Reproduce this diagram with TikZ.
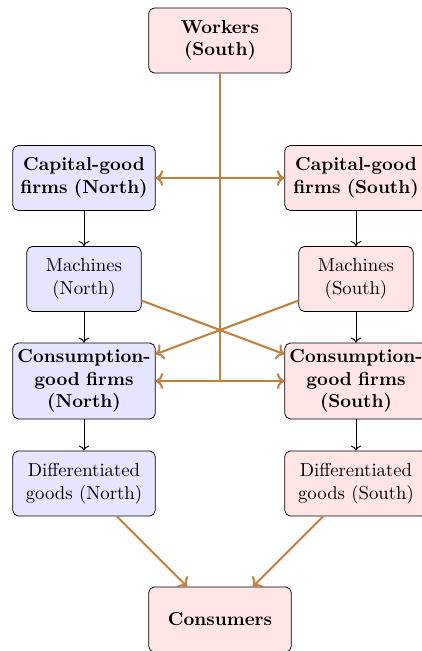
\documentclass[tikz,border=0pt]{standalone}
\usetikzlibrary{arrows.meta}
\definecolor{flowc}{RGB}{191,128,64}
\tikzset{
  box/.style={draw, rounded corners=3pt, align=center, text width=72pt, inner sep=2pt, minimum height=34.7pt},
  nbox/.style={box, fill=blue!10},
  sbox/.style={box, fill=red!10},
  small/.style={text width=57pt},
  tall/.style={minimum height=40.5pt},
  flowline/.style={draw=flowc, line width=1.1pt},
  flow/.style={flowline, ->},
  blk/.style={draw=black, line width=0.5pt, ->},
}
\begin{document}
\begin{tikzpicture}[x=0.5333pt,y=-0.5333pt]
\useasboundingbox (0,0) rectangle (421,651);
\node[sbox] (work) at (220,40.5) {\textbf{Workers (South)}};
\node[nbox] (capN) at (84,178) {\textbf{Capital-good firms (North)}};
\node[sbox] (capS) at (356,178) {\textbf{Capital-good firms (South)}};
\node[nbox, small] (machN) at (84,279) {Machines (North)};
\node[sbox, small] (machS) at (356,279) {Machines (South)};
\node[nbox, tall] (consN) at (84,381) {\textbf{Consumption-good firms (North)}};
\node[sbox, tall] (consS) at (356,381) {\textbf{Consumption-good firms (South)}};
\node[nbox] (diffN) at (84,483.5) {Differentiated goods (North)};
\node[sbox] (diffS) at (356,483.5) {Differentiated goods (South)};
\node[sbox] (cons) at (220,619.5) {\textbf{Consumers}};
\coordinate (j) at (work.south |- consN.east);
\coordinate (k) at (work.south |- capN.east);
% black flows
\draw[blk] (capN) -- (machN);
\draw[blk] (machN) -- (consN);
\draw[blk] (consN) -- (diffN);
\draw[blk] (capS) -- (machS);
\draw[blk] (machS) -- (consS);
\draw[blk] (consS) -- (diffS);
% orange flows
\draw[flowline] (work.south) -- (j);
\draw[flow] (k) -- (capN.east);
\draw[flow] (k) -- (capS.west);
\draw[flow] (j) -- (consN.east);
\draw[flow] (j) -- (consS.west);
\draw[flow] (machN) -- (consS);
\draw[flow] (machS) -- (consN);
\draw[flow] (diffN) -- (cons);
\draw[flow] (diffS) -- (cons);
\end{tikzpicture}
\end{document}
